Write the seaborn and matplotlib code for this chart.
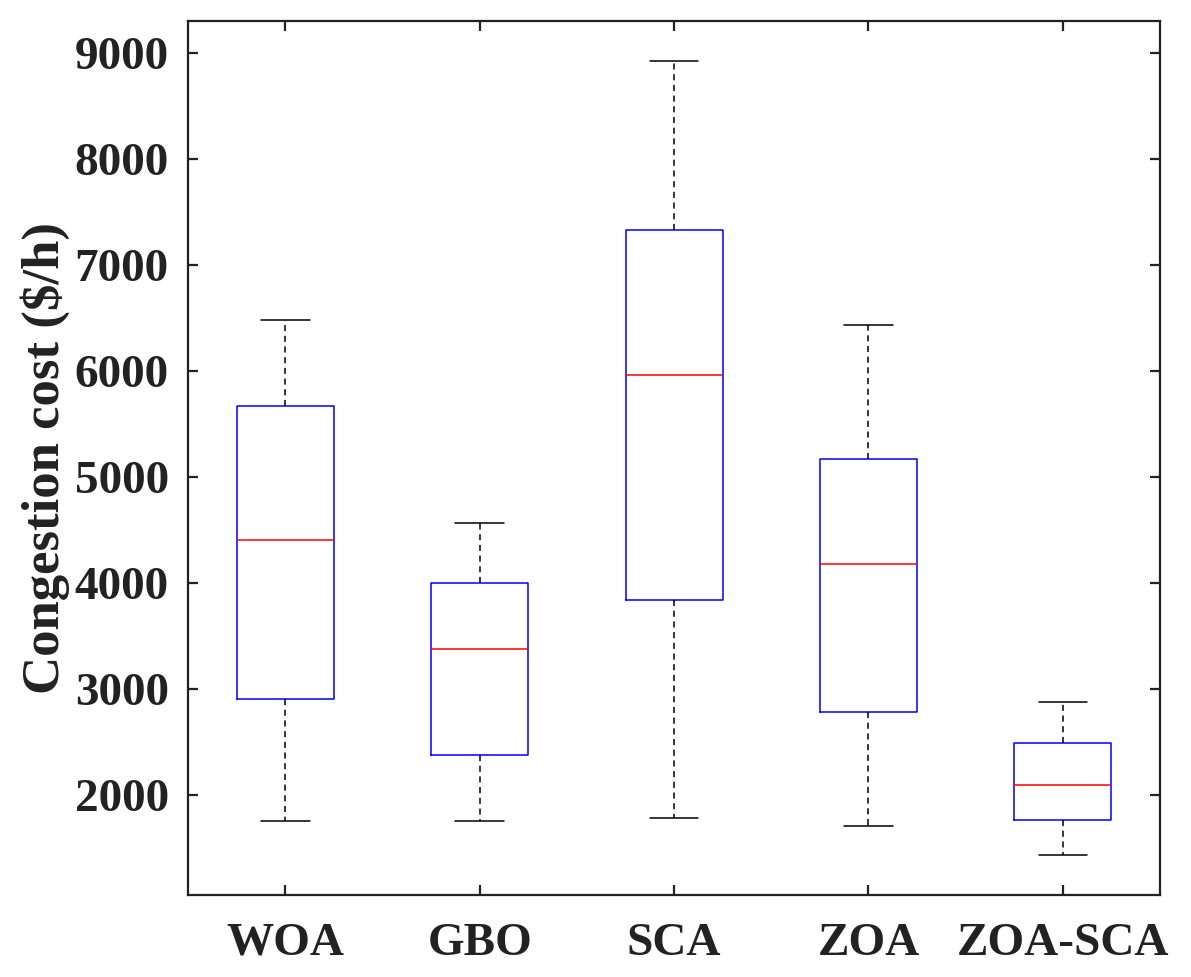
import matplotlib
matplotlib.use("Agg")
import matplotlib.pyplot as plt
import seaborn as sns
import numpy as np
import pandas as pd

# five-number summaries: min, q1, median, q3, max
algorithms = ["WOA", "GBO", "SCA", "ZOA", "ZOA-SCA"]
woa = [1758, 2909, 4409, 5670, 6481]
gbo = [1758, 2380, 3374, 3997, 4569]
sca = [1780, 3843, 5965, 7330, 8928]
zoa = [1708, 2783, 4179, 5167, 6431]
zoa_sca = [1437, 1761, 2097, 2491, 2877]
yticks = [2000, 3000, 4000, 5000, 6000, 7000, 8000, 9000]

df = pd.DataFrame({
    "Algorithm": np.repeat(algorithms, 5),
    "Cost": woa + gbo + sca + zoa + zoa_sca,
})

sns.set_theme(style="ticks")
plt.rcParams["font.family"] = "Liberation Serif"
plt.rcParams["font.weight"] = "bold"
FONT = "Liberation Serif"

fig = plt.figure(figsize=(11.91, 9.77), dpi=100)
ax = fig.add_axes([0.158, 0.084, 0.816, 0.8945])

sns.boxplot(data=df, x="Algorithm", y="Cost", order=algorithms,
            whis=(0, 100), width=0.5, fill=False, linewidth=1.1,
            boxprops=dict(color="blue"),
            medianprops=dict(color="red"),
            whiskerprops=dict(color="black", linestyle=(0, (4, 3))),
            capprops=dict(color="black"),
            ax=ax)

ax.set_xlim(-0.5, 4.5)
ax.set_ylim(1057, 9302)
ax.set_yticks(yticks)
ax.set_xticks(range(len(algorithms)))
ax.set_xticklabels(algorithms, family=FONT, fontweight="bold")
ax.set_yticklabels([str(t) for t in yticks], family=FONT, fontweight="bold")
ax.set_xlabel("")
ax.set_ylabel("Congestion cost ($/h)", family=FONT, fontsize=38,
              fontweight="bold", color="#222222", labelpad=3)

for s in ax.spines.values():
    s.set_visible(True)
    s.set_linewidth(1.6)
    s.set_color("#222222")
ax.tick_params(direction="in", length=7.5, width=1.6, top=True, right=True,
               labelsize=34, colors="#222222")
ax.tick_params(axis="y", pad=14)
ax.tick_params(axis="x", pad=20)

fig.savefig("out.png", dpi=100)
